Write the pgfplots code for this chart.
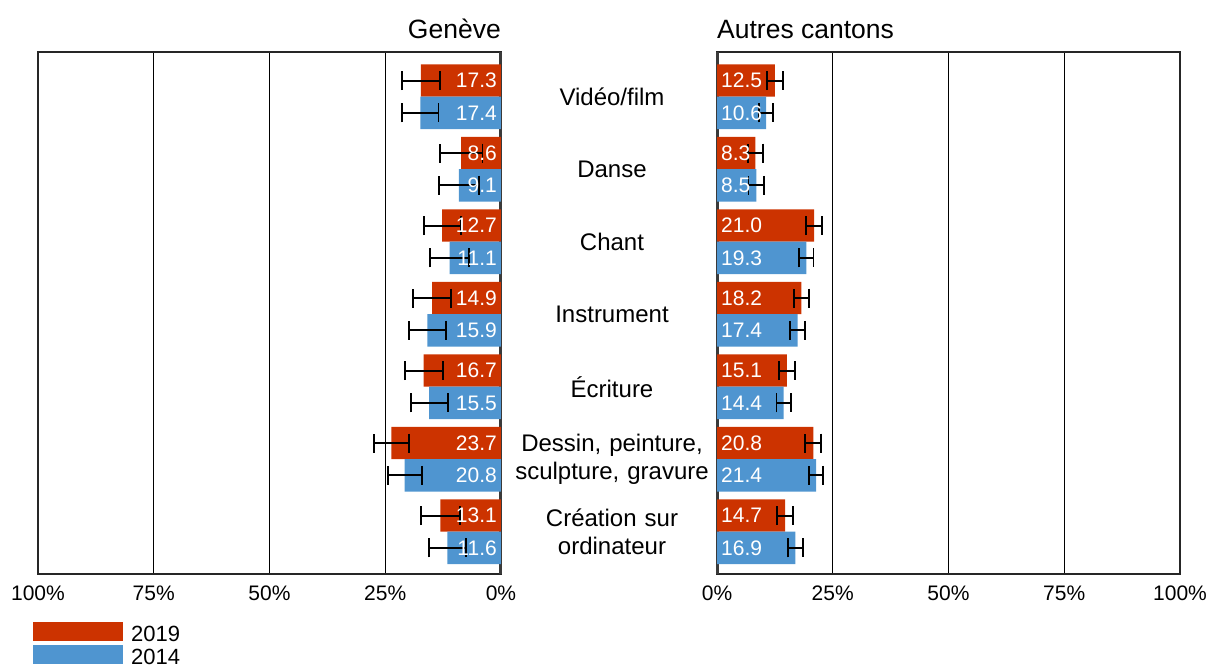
\documentclass[border=0pt]{standalone}
\usepackage{pgfplots}
\usepackage{pgfplotstable}
\pgfplotsset{compat=1.18}
\usepackage{fontspec}
\setmainfont{Liberation Sans}

\definecolor{c19}{HTML}{CC3300}
\definecolor{c14}{HTML}{4F95D0}
\definecolor{zero}{HTML}{3A3A3A}

\newcommand\titlefont{\fontsize{26.5}{30}\selectfont}
\newcommand\catfont{\fontsize{24}{27.7}\selectfont}
\newcommand\valfont{\fontsize{21}{25}\selectfont}

% value, error (2019), value, error (2014)
\pgfplotstableread{
v19  e19 v14  e14
17.3 4.1 17.4 3.9
8.6  4.6 9.1  4.3
12.7 4.0 11.1 4.2
14.9 4.1 15.9 4.0
16.7 4.1 15.5 4.0
23.7 3.8 20.8 3.7
13.1 4.2 11.6 4.0
}\geneve

\pgfplotstableread{
v19  e19 v14  e14
12.5 1.7 10.6 1.55
8.3  1.7 8.5  1.7
21.0 1.7 19.3 1.55
18.2 1.6 17.4 1.6
15.1 1.8 14.4 1.55
20.8 1.7 21.4 1.55
14.7 1.8 16.9 1.6
}\autres

\pgfplotsset{
  panel/.style={
    scale only axis, width=463pt, height=522pt,
    xmin=0, xmax=100, ymin=-0.617, ymax=6.583, y dir=reverse,
    xtick={0,25,50,75,100}, xticklabels={0\%,25\%,50\%,75\%,100\%},
    ytick={0,...,6},
    tick style={draw=none},
    xmajorgrids, major grid style={black, line width=1.3pt},
    axis line style={black!85, line width=1.3pt},
    xticklabel style={font=\valfont, anchor=base, yshift=-26pt},
    title style={font=\titlefont, inner sep=0pt},
    extra x ticks={0}, extra x tick labels={},
    extra x tick style={major grid style={zero, line width=3pt}},
  },
  bars/.style={xbar, bar width=0.446, draw=none, fill=#1},
  ebar/.style={draw=none, mark=none, forget plot,
    error bars/.cd, x dir=both, x explicit,
    error bar style={draw=black, line width=1.9pt},
    error mark options={draw=black, rotate=90, mark size=9.5pt, line width=1.9pt}},
  vals/.style={draw=none, mark=none, forget plot, nodes near coords,
    point meta=explicit symbolic,
    nodes near coords style={font=\valfont, text=white, inner sep=4pt, anchor=#1}},
}

\begin{document}
\begin{tikzpicture}
\path[use as bounding box] (0,0) rectangle (1210pt,666pt);

\begin{axis}[panel, at={(38pt,92pt)}, anchor=south west,
  x dir=reverse, yticklabels={},
  title={Genève}, title style={at={(1,1)}, anchor=base east, yshift=8pt},
  legend style={at={(-0.0173,-0.0875)}, anchor=north west, draw=none, fill=none,
    font=\fontsize{22}{24}\selectfont, nodes={inner sep=0pt},
    row sep=2pt, column sep=8pt},
  legend cell align=left,
  legend image code/.code={\fill[#1] (0pt,-6.5pt) rectangle (90pt,12.5pt);},
]
\addplot[bars=c19, bar shift=-0.223] table[x=v19, y expr=\coordindex] {\geneve};
\addlegendentry{2019}
\addplot[bars=c14, bar shift=0.223] table[x=v14, y expr=\coordindex] {\geneve};
\addlegendentry{2014}
\addplot[vals=east] table[x expr=0, y expr=\coordindex-0.223, meta=v19] {\geneve};
\addplot[vals=east] table[x expr=0, y expr=\coordindex+0.223, meta=v14] {\geneve};
\addplot[ebar] table[x=v19, y expr=\coordindex-0.223, x error=e19] {\geneve};
\addplot[ebar] table[x=v14, y expr=\coordindex+0.223, x error=e14] {\geneve};
\end{axis}

\begin{axis}[panel, at={(717pt,92pt)}, anchor=south west,
  yticklabels={Vidéo/film, Danse, Chant, Instrument, Écriture,
    {Dessin, peinture,\\sculpture, gravure}, {Création sur\\ordinateur}},
  yticklabel style={font=\catfont, anchor=center, xshift=-105pt,
    text width=230pt, align=center},
  title={Autres cantons}, title style={at={(0,1)}, anchor=base west, yshift=8pt},
]
\addplot[bars=c19, bar shift=-0.223] table[x=v19, y expr=\coordindex] {\autres};
\addplot[bars=c14, bar shift=0.223] table[x=v14, y expr=\coordindex] {\autres};
\addplot[vals=west] table[x expr=0, y expr=\coordindex-0.223, meta=v19] {\autres};
\addplot[vals=west] table[x expr=0, y expr=\coordindex+0.223, meta=v14] {\autres};
\addplot[ebar] table[x=v19, y expr=\coordindex-0.223, x error=e19] {\autres};
\addplot[ebar] table[x=v14, y expr=\coordindex+0.223, x error=e14] {\autres};
\end{axis}
\end{tikzpicture}
\end{document}
